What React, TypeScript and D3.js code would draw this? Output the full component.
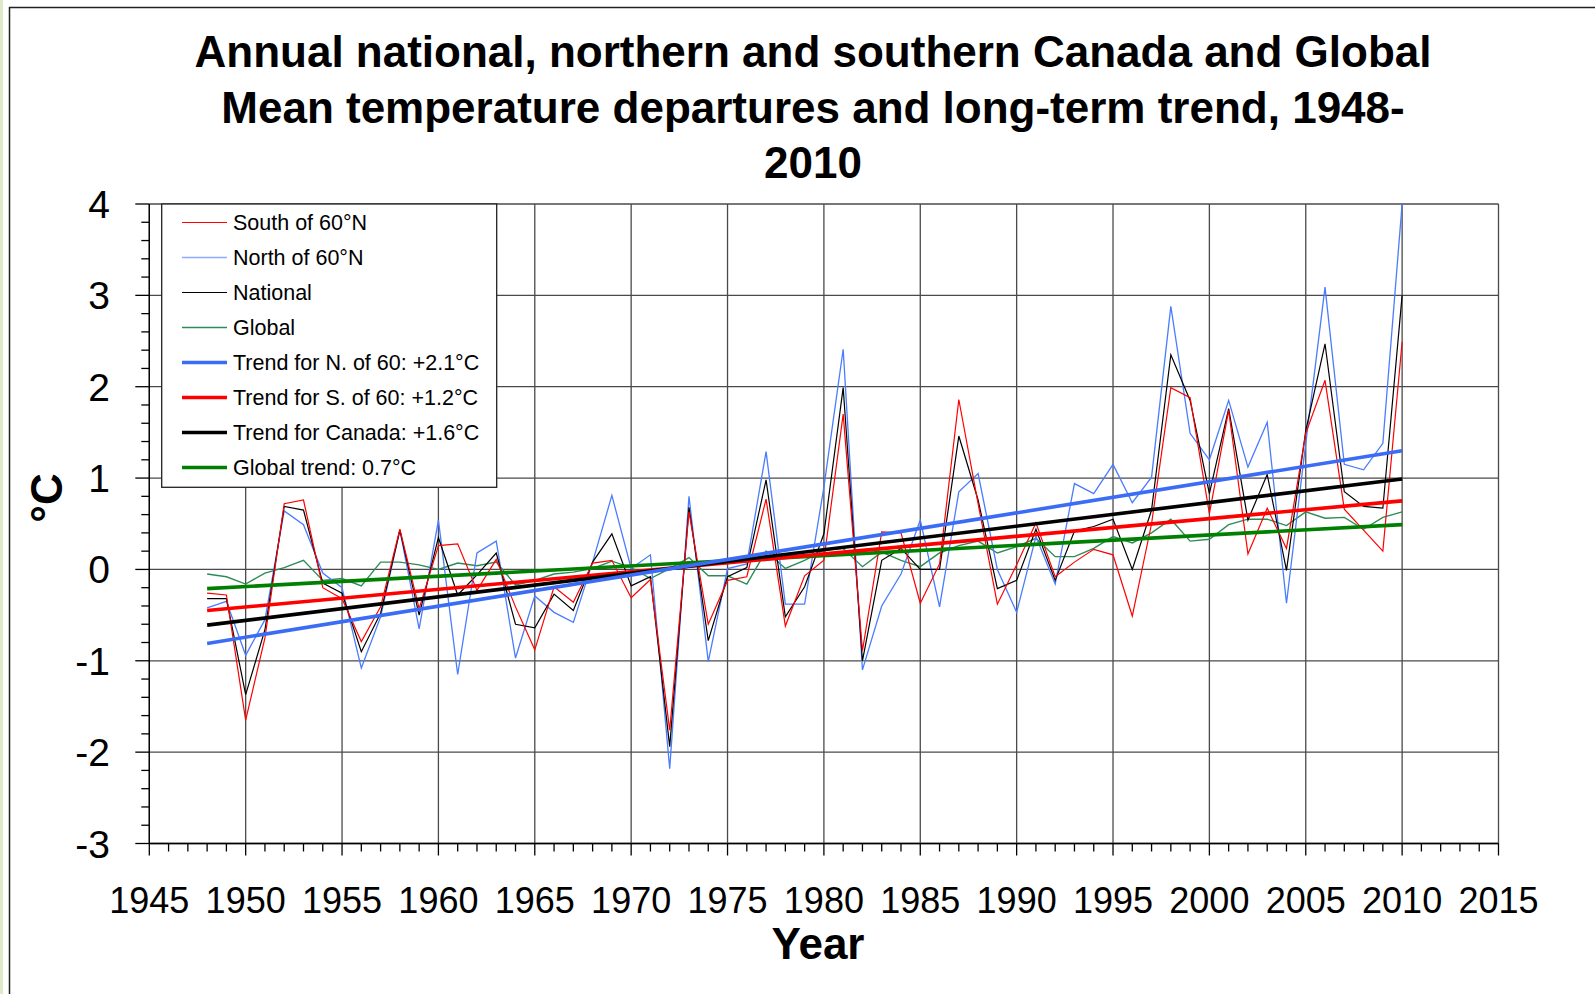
import React from 'react';
import * as d3 from 'd3';

// Annual departures (°C), 1948-2010
const years: number[] = d3.range(1948, 2011);

const south: number[] = [
  -0.26, -0.28, -1.65, -0.75, 0.72, 0.76, -0.2, -0.32, -0.79, -0.41,
  0.44, -0.43, 0.26, 0.28, -0.23, 0.11, -0.41, -0.88, -0.19, -0.36,
  0.07, 0.1, -0.31, -0.11, -1.76, 0.63, -0.6, -0.12, -0.08, 0.77,
  -0.62, -0.07, 0.1, 1.7, -0.89, 0.41, 0.4, -0.37, 0.06, 1.86,
  0.72, -0.38, 0.05, 0.51, -0.08, 0.08, 0.22, 0.16, -0.51, 0.5,
  1.99, 1.88, 0.61, 1.74, 0.17, 0.67, 0.23, 1.49, 2.07, 0.66,
  0.43, 0.2, 2.49,
];

const north: number[] = [
  -0.42, -0.35, -0.94, -0.55, 0.64, 0.49, -0.04, -0.2, -1.08, -0.52,
  0.43, -0.65, 0.54, -1.15, 0.18, 0.31, -0.97, -0.29, -0.47, -0.58,
  0.08, 0.81, 0.01, 0.16, -2.18, 0.8, -1.01, 0.01, 0.06, 1.29,
  -0.38, -0.38, 0.9, 2.41, -1.1, -0.4, -0.05, 0.54, -0.41, 0.85,
  1.05, 0.0, -0.47, 0.36, -0.16, 0.94, 0.83, 1.15, 0.73, 1.01,
  2.88, 1.49, 1.2, 1.85, 1.12, 1.61, -0.37, 1.38, 3.09, 1.15,
  1.09, 1.38, 4.0,
];

const national: number[] = [
  -0.32, -0.32, -1.37, -0.66, 0.69, 0.65, -0.15, -0.26, -0.9, -0.48,
  0.43, -0.5, 0.35, -0.28, -0.06, 0.18, -0.6, -0.64, -0.27, -0.45,
  0.08, 0.39, -0.18, -0.08, -1.94, 0.68, -0.78, -0.08, 0.02, 0.98,
  -0.52, -0.19, 0.39, 1.99, -1.0, 0.1, 0.23, 0.0, 0.0, 1.46,
  0.76, -0.21, -0.12, 0.44, -0.12, 0.42, 0.47, 0.55, 0.0, 0.65,
  2.35, 1.85, 0.83, 1.76, 0.54, 1.04, -0.01, 1.52, 2.47, 0.85,
  0.69, 0.67, 3.0,
];

const globalMean: number[] = [
  -0.05, -0.08, -0.16, -0.04, 0.02, 0.1, -0.12, -0.1, -0.18, 0.08,
  0.08, 0.05, 0.0, 0.07, 0.04, 0.08, -0.17, -0.12, -0.05, -0.03,
  0.01, 0.09, 0.02, -0.1, 0.01, 0.13, -0.07, -0.07, -0.16, 0.2,
  0.01, 0.1, 0.21, 0.23, 0.03, 0.19, 0.1, 0.03, 0.18, 0.26,
  0.31, 0.18, 0.25, 0.34, 0.14, 0.14, 0.23, 0.36, 0.29, 0.4,
  0.55, 0.31, 0.33, 0.49, 0.55, 0.55, 0.48, 0.63, 0.56, 0.57,
  0.44, 0.57, 0.63,
];

// Linear trend endpoints (1948, 2010)
const trendYears: number[] = [1948, 2010];
const trendNorth: number[] = [-0.81, 1.3];
const trendSouth: number[] = [-0.45, 0.75];
const trendNational: number[] = [-0.61, 0.99];
const trendGlobal: number[] = [-0.21, 0.49];

const titleLines: string[] = [
  'Annual national, northern and southern Canada and Global',
  'Mean temperature departures and long-term trend, 1948-',
  '2010',
];

const legendLabels: string[] = [
  'South of 60°N',
  'North of 60°N',
  'National',
  'Global',
  'Trend for N. of 60: +2.1°C',
  'Trend for S. of 60: +1.2°C',
  'Trend for Canada: +1.6°C',
  'Global trend: 0.7°C',
];

const xTicks: number[] = d3.range(1945, 2016, 5);
const yTicks: number[] = d3.range(-3, 5, 1);

const W = 1595;
const H = 994;
const FONT = '"Liberation Sans", Arial, sans-serif';

const C_RED = '#ff0000';
const C_BLUE = '#4a7cff';
const C_BLUE_TREND = '#3a6cf5';
const C_GREEN = '#2e8b57';
const C_GREEN_TREND = '#008000';

const App: React.FC = () => {
  const left = 149.3;
  const right = 1498.5;
  const top = 204;
  const bottom = 843.5;

  const x = d3.scaleLinear().domain([1945, 2015]).range([left, right]);
  const y = d3.scaleLinear().domain([-3, 4]).range([bottom, top]);

  const line = (vals: number[], yrs: number[]) =>
    d3
      .line<number>()
      .x((_, i) => x(yrs[i]))
      .y((v) => y(v))(vals) || '';

  const minorX = d3.range(1945, 2016, 1);
  const minorY = d3.range(-3, 4.01, 0.2);

  const dataSeries = [
    { vals: globalMean, color: C_GREEN, w: 1.4 },
    { vals: north, color: C_BLUE, w: 1.3 },
    { vals: national, color: '#000', w: 1.2 },
    { vals: south, color: C_RED, w: 1.2 },
  ];
  const trendSeries = [
    { vals: trendGlobal, color: C_GREEN_TREND },
    { vals: trendSouth, color: C_RED },
    { vals: trendNational, color: '#000' },
    { vals: trendNorth, color: C_BLUE_TREND },
  ];

  const legendStyles = [
    { color: C_RED, w: 1.2 },
    { color: '#8eaaff', w: 1.5 },
    { color: '#000', w: 1.2 },
    { color: C_GREEN, w: 1.4 },
    { color: C_BLUE_TREND, w: 3.5 },
    { color: C_RED, w: 3.5 },
    { color: '#000', w: 3.5 },
    { color: C_GREEN_TREND, w: 3.5 },
  ];

  return (
    <svg
      width={W}
      height={H}
      style={{ position: 'absolute', left: 0, top: 0, background: '#fff' }}
      fontFamily={FONT}
    >
      <rect x={0} y={0} width={W} height={H} fill="#fff" />
      {/* page frame */}
      <rect x={0} y={0} width={3} height={H} fill="#dfe8c8" />
      <line x1={9} y1={7.5} x2={W} y2={7.5} stroke="#222" strokeWidth={1.5} />
      <line x1={9.5} y1={7} x2={9.5} y2={H} stroke="#222" strokeWidth={1.5} />

      {/* title */}
      <g fontWeight="bold" fontSize={44} textAnchor="middle" fill="#000">
        {titleLines.map((t, i) => (
          <text key={i} x={813} y={67 + i * 55.5}>
            {t}
          </text>
        ))}
      </g>

      {/* grid */}
      <g stroke="#4a4a4a" strokeWidth={1.3}>
        {xTicks.map((t) => (
          <line key={'gx' + t} x1={x(t)} x2={x(t)} y1={top} y2={bottom} />
        ))}
        {yTicks.map((t) => (
          <line key={'gy' + t} x1={left} x2={right} y1={y(t)} y2={y(t)} />
        ))}
      </g>

      {/* ticks */}
      <g stroke="#000" strokeWidth={1.3}>
        {minorX.map((t) => (
          <line
            key={'tx' + t}
            x1={x(t)}
            x2={x(t)}
            y1={bottom}
            y2={bottom + (t % 5 === 0 ? 12 : 8)}
          />
        ))}
        {minorY.map((t, i) => (
          <line
            key={'ty' + i}
            x1={left - (i % 5 === 0 ? 14 : 8)}
            x2={left}
            y1={y(t)}
            y2={y(t)}
          />
        ))}
        <line x1={left} x2={left} y1={top} y2={bottom} />
        <line x1={left} x2={right} y1={bottom} y2={bottom} />
      </g>

      {/* tick labels */}
      <g fontSize={39} fill="#000" textAnchor="end">
        {yTicks.map((t) => (
          <text key={'ly' + t} x={110} y={y(t)} dy="0.36em">
            {t}
          </text>
        ))}
      </g>
      <g fontSize={36} fill="#000" textAnchor="middle">
        {xTicks.map((t) => (
          <text key={'lx' + t} x={x(t)} y={913}>
            {t}
          </text>
        ))}
      </g>

      {/* axis titles */}
      <text x={818} y={959} fontSize={44} fontWeight="bold" textAnchor="middle">
        Year
      </text>
      <text
        transform="translate(62,498) rotate(-90)"
        fontSize={44}
        fontWeight="bold"
        textAnchor="middle"
      >
        °C
      </text>

      {/* data lines */}
      <g fill="none" strokeLinejoin="miter">
        {dataSeries.map((s, i) => (
          <path key={'d' + i} d={line(s.vals, years)} stroke={s.color} strokeWidth={s.w} />
        ))}
        {trendSeries.map((s, i) => (
          <path key={'t' + i} d={line(s.vals, trendYears)} stroke={s.color} strokeWidth={3.6} />
        ))}
      </g>

      {/* legend */}
      <g>
        <rect x={161.7} y={204} width={335} height={283.3} fill="#fff" stroke="#222" strokeWidth={1.3} />
        {legendLabels.map((label, i) => {
          const ly = 222.5 + i * 35;
          return (
            <g key={'lg' + i}>
              <line
                x1={182}
                x2={227}
                y1={ly}
                y2={ly}
                stroke={legendStyles[i].color}
                strokeWidth={legendStyles[i].w}
              />
              <text x={233} y={ly} dy="0.36em" fontSize={21.5} fill="#000">
                {label}
              </text>
            </g>
          );
        })}
      </g>
    </svg>
  );
};

export default App;
